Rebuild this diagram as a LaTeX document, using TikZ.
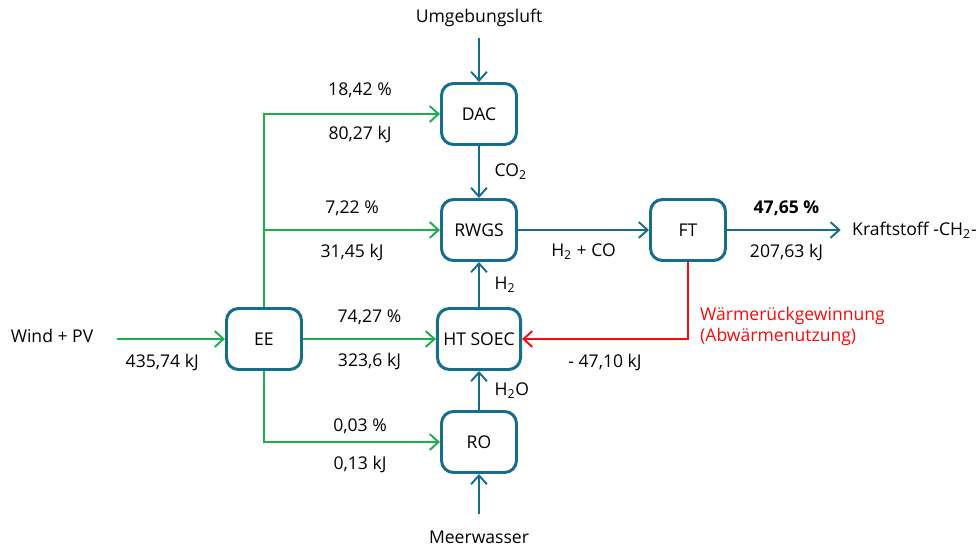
\documentclass[tikz,border=0pt]{standalone}
\usepackage{fontspec}
\setmainfont{Open Sans}
\usepackage{tikz}
\usetikzlibrary{arrows.meta, positioning, calc}

\definecolor{procblue}{RGB}{20,110,140}
\definecolor{flowgreen}{RGB}{30,175,75}
\definecolor{heatred}{RGB}{250,10,10}

\tikzset{
    proc/.style={draw=procblue, line width=1.7pt, rounded corners=0.24cm,
        minimum width=1.5cm, minimum height=1.22cm, fill=white},
    bflow/.style={draw=procblue, line width=1.1pt, -{Straight Barb[length=5pt,width=9pt]}},
    gflow/.style={draw=flowgreen, line width=1.1pt, -{Straight Barb[length=5pt,width=9pt]}},
    rflow/.style={draw=heatred, line width=1.1pt, -{Straight Barb[length=5pt,width=9pt]}},
    lbl/.style={inner sep=0pt}
}

\begin{document}
\begin{tikzpicture}[font=\fontsize{10}{12}\selectfont]
    \useasboundingbox (0,0) rectangle (19.56,10.96);

    % process boxes
    \node[proc] (dac) at (9.58, 8.68) {DAC};
    \node[proc] (rwgs) at (9.58, 6.36) {RWGS};
    \node[proc] (soec) at (9.58, 4.18) {HT SOEC};
    \node[proc] (ro) at (9.58, 2.12) {RO};
    \node[proc] (ee) at (5.28, 4.18) {EE};
    \node[proc] (ft) at (13.76, 6.36) {FT};

    % sources and sinks
    \node (luft) at (9.58, 10.6) {Umgebungsluft};
    \node (meer) at (9.58, 0.22) {Meerwasser};
    \node (wind) at (1.04, 4.24) {Wind + PV};
    \node[anchor=west] (fuel) at (16.92, 6.36) {Kraftstoff -CH\textsubscript{2}-};
    \node[anchor=west, align=left, text=heatred] (waerme) at (13.88, 4.44)
        {Wärmerückgewinnung\\(Abwärmenutzung)};

    % inputs
    \draw[bflow, shorten <=3pt] (luft) -- (dac);
    \draw[bflow, shorten <=6pt] (meer) -- (ro);
    \draw[gflow, shorten <=10pt] (wind.east |- ee.west) -- (ee.west)
        node[midway, below=5pt] {435,74 kJ};

    % electricity from EE
    \draw[gflow] (ee.north) |- (dac.west);
    \node at (7.2, 9.16) {18,42 \%};
    \node at (7.2, 8.28) {80,27 kJ};
    \draw[gflow] (ee.north |- rwgs.west) -- (rwgs.west)
        node[midway, above=4pt] {7,22 \%}
        node[midway, below=4pt] {31,45 kJ};
    \draw[gflow] (ee) -- (soec)
        node[midway, above=4pt] {74,27 \%}
        node[midway, below=4pt] {323,6 kJ};
    \draw[gflow] (ee.south) |- (ro.west);
    \node at (7.2, 2.44) {0,03 \%};
    \node at (7.2, 1.68) {0,13 kJ};

    % material flows
    \draw[bflow] (dac) -- node[right=5pt] {CO\textsubscript{2}} (rwgs);
    \draw[bflow] (soec) -- node[right=5pt] {H\textsubscript{2}} (rwgs);
    \draw[bflow] (ro) -- node[right=5pt] {H\textsubscript{2}O} (soec);
    \draw[bflow] (rwgs) -- node[below=4pt] {H\textsubscript{2} + CO} (ft);
    \draw[bflow, shorten >=3pt] (ft) -- (fuel)
        node[midway, above=4pt] {\textbf{47,65 \%}}
        node[midway, below=4pt] {207,63 kJ};

    % heat recovery
    \draw[rflow] (ft.south) |- (soec.east)
        node[pos=0.75, below=5pt] {- 47,10 kJ};
\end{tikzpicture}
\end{document}
